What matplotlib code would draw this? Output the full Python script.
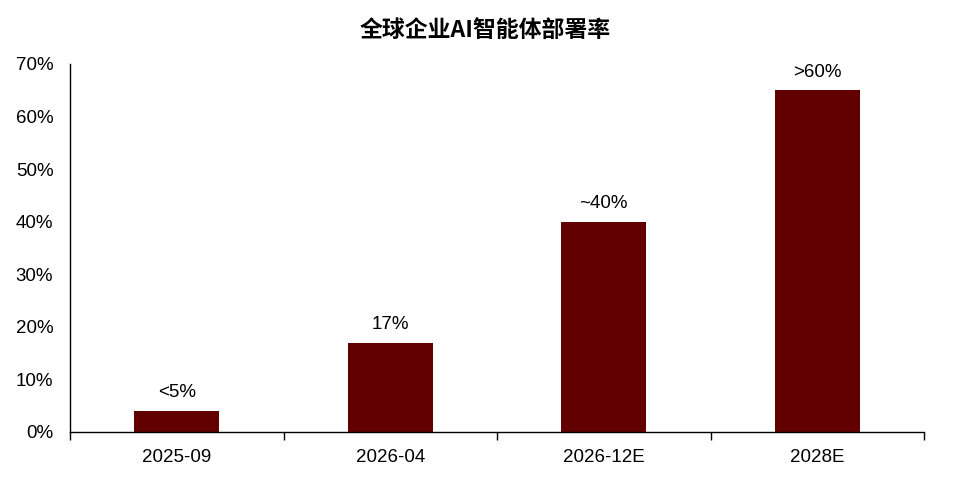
import matplotlib.pyplot as plt
from matplotlib.ticker import FixedLocator, PercentFormatter

plt.rcParams['font.family'] = ['Liberation Sans', 'Noto Sans CJK SC', 'DejaVu Sans']

# data
categories = ['2025-09', '2026-04', '2026-12E', '2028E']
values = [4, 17, 40, 65]
labels = ['<5%', '17%', '~40%', '>60%']

fig = plt.figure(figsize=(9.71, 4.8), dpi=100)
ax = fig.add_axes([0.0721, 0.1, 0.8795, 0.7667])

x = range(len(categories))
bars = ax.bar(x, values, width=0.4, color='#620000', zorder=2)
for b, lab in zip(bars, labels):
    ax.annotate(lab, (b.get_x() + b.get_width() / 2, b.get_height()),
                xytext=(0, 7), textcoords='offset points',
                ha='center', va='bottom', fontsize=13.5)

ax.set_xlim(-0.5, 3.5)
ax.set_ylim(0, 70)
ax.set_yticks(range(0, 71, 10))
ax.yaxis.set_major_formatter(PercentFormatter(decimals=0))
ax.set_xticks(list(x))
ax.set_xticklabels(categories)
ax.xaxis.set_minor_locator(FixedLocator([-0.5, 0.5, 1.5, 2.5, 3.5]))
ax.tick_params(axis='x', which='major', length=0, pad=12, labelsize=13.5)
ax.tick_params(axis='x', which='minor', length=6, width=1, direction='out')
ax.tick_params(axis='y', length=0, pad=12, labelsize=13.5)

for s in ['top', 'right']:
    ax.spines[s].set_visible(False)
ax.spines['left'].set_linewidth(1)
ax.spines['bottom'].set_linewidth(1)

fig.text(0.5, 0.936, '全球企业AI智能体部署率', ha='center', va='center',
         fontsize=16.5, fontweight='bold',
         family=['Noto Sans CJK SC', 'DejaVu Sans'])

fig.savefig('out.png', dpi=100)
